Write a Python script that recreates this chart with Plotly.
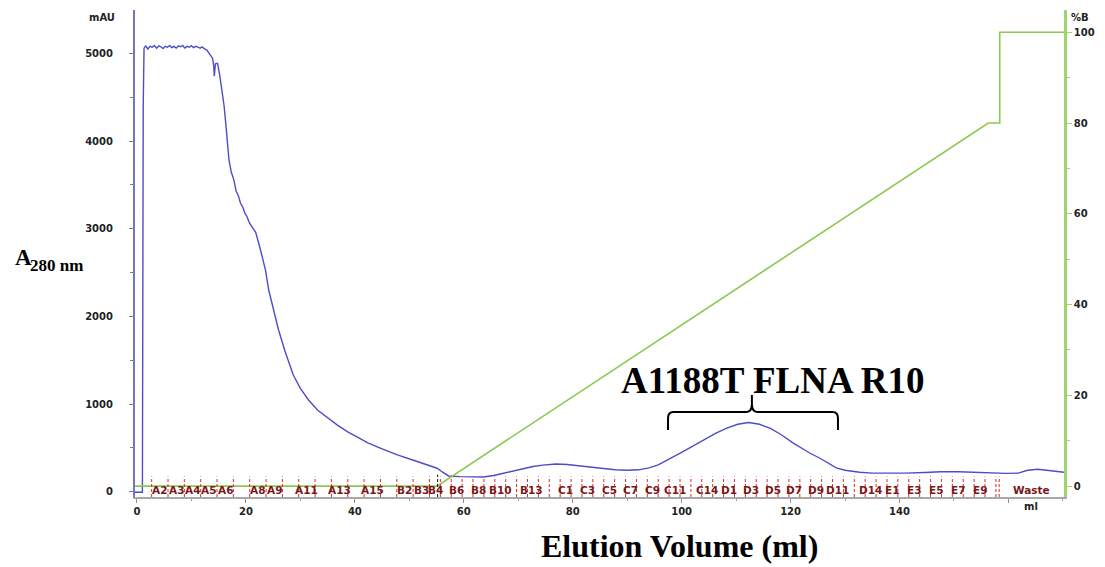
import plotly.graph_objects as go

# ---------------- data ----------------
elution_ml = [-0.4, 1.0, 1.15, 1.3, 1.6, 2.0, 2.4, 2.8, 3.2, 3.6, 4.0, 4.4, 4.8, 5.2, 5.6,
              6.0, 6.4, 6.8, 7.2, 7.6, 8.0, 8.4, 8.8, 9.2, 9.6, 10.0, 10.4, 10.8, 11.2, 11.6,
              12.0, 12.4, 12.8, 13.2, 13.6, 13.9, 14.1, 14.2, 14.4, 14.8, 15.2, 15.7, 16.0,
              16.3, 16.6, 16.9, 17.3, 17.8, 18.2, 18.6, 19.0, 19.4, 19.8, 20.2, 20.7, 21.2,
              21.8, 22.7, 23.6, 24.2, 25.0, 26.0, 27.2, 28.7, 30.0, 31.5, 33.2, 35.1, 36.8,
              38.7, 40.5, 42.4, 45.0, 47.8, 50.5, 53.3, 55.1, 56.2, 57.2, 59.3, 61.5, 63.6,
              65.5, 67.2, 69.0, 70.9, 72.7, 74.5, 76.9, 79.0, 81.8, 84.8, 87.8, 90.0, 92.1,
              94.0, 95.7, 96.8, 98.1, 100.0, 102.0, 104.3, 106.3, 108.3, 110.3, 112.3, 114.3,
              116.3, 118.3, 120.5, 122.0, 123.6, 125.4, 127.0, 128.4, 130.0, 132.7, 135.0,
              138.7, 141.0, 144.7, 147.5, 150.9, 154.0, 156.9, 159.5, 161.8, 163.5, 165.4,
              167.5, 170.2]
absorbance_mau = [-5, -5, 4400, 5060, 5085, 5050, 5080, 5070, 5090, 5060, 5085, 5075, 5055,
                  5080, 5070, 5090, 5065, 5080, 5060, 5085, 5075, 5090, 5060, 5080, 5070,
                  5088, 5065, 5080, 5072, 5060, 5075, 5050, 5040, 5000, 4960, 4943, 4850,
                  4740, 4880, 4886, 4750, 4562, 4400, 4205, 4000, 3783, 3650, 3555, 3430,
                  3380, 3293, 3250, 3180, 3137, 3060, 3010, 2960, 2754, 2529, 2298, 2080,
                  1845, 1600, 1332, 1180, 1047, 930, 842, 760, 683, 620, 557, 490, 420, 365,
                  306, 268, 220, 180, 172, 166, 168, 185, 211, 240, 268, 288, 304, 316, 310,
                  294, 270, 250, 245, 250, 272, 306, 340, 385, 450, 520, 600, 668, 725, 770,
                  790, 770, 722, 650, 555, 495, 439, 382, 320, 272, 245, 222, 212, 210, 212,
                  220, 228, 228, 220, 212, 210, 212, 245, 257, 245, 222]

gradient_ml = [-0.4, 55.1, 156.3, 158.4, 158.4, 170.2]
gradient_pct_b = [0, 0, 80, 80, 100, 100]

fraction_boundaries_ml = [2.7, 5.7, 8.7, 11.7, 14.7, 17.7, 20.7, 23.7, 26.7, 29.7, 32.7, 35.7,
                          38.7, 41.7, 44.7, 47.7, 50.7, 53.7, 55.7, 57.7, 59.7, 61.7, 63.7,
                          65.7, 67.7, 69.7, 71.7, 73.7, 75.7, 77.7, 79.7, 81.7, 83.7, 85.7,
                          87.7, 89.7, 91.7, 93.7, 95.7, 97.7, 99.7, 101.7, 103.7, 105.7, 107.7,
                          109.7, 111.7, 113.7, 115.7, 117.7, 119.7, 121.7, 123.7, 125.7, 127.7,
                          129.7, 131.7, 133.7, 135.7, 137.7, 139.7, 141.7, 143.7, 145.7, 147.7,
                          149.7, 151.7, 153.7, 155.7, 157.7, 158.3]
fraction_labels = ["A2", "A3", "A4", "A5", "A6", "A8", "A9", "A11", "A13", "A15", "B2", "B3",
                   "B4", "B6", "B8", "B10", "B13", "C1", "C3", "C5", "C7", "C9", "C11", "C14",
                   "D1", "D3", "D5", "D7", "D9", "D11", "D14", "E1", "E3", "E5", "E7", "E9",
                   "Waste"]
fraction_label_ml = [4.2, 7.2, 10.2, 13.2, 16.2, 22.2, 25.2, 31.2, 37.2, 43.2, 49.2, 52.2,
                     54.9, 58.7, 62.7, 66.7, 72.4, 78.7, 82.7, 86.7, 90.7, 94.7, 98.7, 104.7,
                     108.7, 112.7, 116.7, 120.7, 124.7, 128.7, 134.7, 138.7, 142.7, 146.7,
                     150.7, 154.7, 164.3]
injection_mark_ml = 55.2

x_tick_vals = [0, 20, 40, 60, 80, 100, 120, 140, 160]
x_tick_text = ["0", "20", "40", "60", "80", "100", "120", "140", ""]
y_tick_vals = [0, 1000, 2000, 3000, 4000, 5000]
y2_tick_vals = [0, 20, 40, 60, 80, 100]

# ---------------- figure ----------------
BLUE = "#4d4dc8"
GREEN = "#8cc853"
TICKFONT = dict(family="DejaVu Sans", size=10, color="#222222", weight="bold")

fig = go.Figure()
fig.add_trace(go.Scatter(x=elution_ml, y=absorbance_mau, mode="lines",
                         line=dict(color=BLUE, width=1.4), yaxis="y", showlegend=False))
fig.add_trace(go.Scatter(x=gradient_ml, y=gradient_pct_b, mode="lines",
                         line=dict(color=GREEN, width=1.6), yaxis="y2", showlegend=False))

shapes = []
for b in fraction_boundaries_ml:
    shapes.append(dict(type="line", xref="x", yref="y domain", x0=b, x1=b, y0=0, y1=0.042,
                       line=dict(color="#dd2a2a", width=1, dash="3px,2px"), layer="above"))
shapes.append(dict(type="line", xref="x", yref="y domain", x0=injection_mark_ml,
                   x1=injection_mark_ml, y0=0, y1=0.046,
                   line=dict(color="#111111", width=1, dash="3px,2px")))

# brace over the peak
bx0, bx1, bxc = 97.5, 128.7, 112.9
by_end, by_bar, by_tip = 705, 910, 1104
brace_path = (f"M {bx0},{by_end} L {bx0},{by_bar-70} Q {bx0},{by_bar} {bx0+1.0},{by_bar} "
              f"L {bxc-1.0},{by_bar} Q {bxc},{by_bar} {bxc},{by_bar+90} L {bxc},{by_tip} "
              f"L {bxc},{by_bar+90} Q {bxc},{by_bar} {bxc+1.0},{by_bar} "
              f"L {bx1-1.0},{by_bar} Q {bx1},{by_bar} {bx1},{by_bar-70} L {bx1},{by_end}")
shapes.append(dict(type="path", xref="x", yref="y", path=brace_path,
                   line=dict(color="#000000", width=2)))

annotations = []
for lab, pos in zip(fraction_labels, fraction_label_ml):
    annotations.append(dict(x=pos, y=0.015, xref="x", yref="y domain", text=lab,
                            showarrow=False, xanchor="center", yanchor="middle",
                            font=dict(family="DejaVu Sans", size=10.5, color="#7a1818",
                                      weight="bold")))
annotations += [
    dict(x=164.2, y=-0.0, xref="x", yref="paper", text="ml", showarrow=False,
         yanchor="top", yshift=-2, font=TICKFONT),
    dict(x=-0.0352, y=0.9856, xref="paper", yref="paper", text="mAU", showarrow=False,
         xanchor="center", yanchor="middle", font=TICKFONT),
    dict(x=1.017, y=0.9856, xref="paper", yref="paper", text="%B", showarrow=False,
         xanchor="center", yanchor="middle", font=TICKFONT),
    dict(x=0.6865, y=0.2402, xref="paper", yref="paper", text="A1188T FLNA R10",
         showarrow=False, xanchor="center", yanchor="middle",
         font=dict(family="Liberation Serif", size=37, color="#000000", weight="bold")),
    dict(x=0.5864, y=-0.1405, xref="paper", yref="paper", text="Elution Volume (ml)",
         showarrow=False, xanchor="center", yanchor="bottom", borderpad=0,
         font=dict(family="Liberation Serif", size=32, color="#000000", weight="bold")),
    dict(x=-0.1316, y=0.4908, xref="paper", yref="paper", text="A",
         showarrow=False, xanchor="left", yanchor="middle",
         font=dict(family="Liberation Serif", size=23, color="#000000", weight="bold")),
    dict(x=-0.1151, y=0.4745, xref="paper", yref="paper", text="280 nm",
         showarrow=False, xanchor="left", yanchor="middle",
         font=dict(family="Liberation Serif", size=17, color="#000000", weight="bold")),
]

fig.update_layout(
    width=1105, height=567,
    margin=dict(l=135, r=32, t=10, b=70),
    paper_bgcolor="white", plot_bgcolor="white",
    shapes=shapes, annotations=annotations,
    xaxis=dict(range=[-0.36, 170.2], showline=True, linecolor="#a8a8a8", linewidth=1.5,
               ticks="outside", ticklen=4, tickcolor="#909090", tickvals=x_tick_vals,
               ticktext=x_tick_text, tickfont=TICKFONT, showgrid=False, zeroline=False,
               minor=dict(dtick=10, tick0=0, ticks="outside", ticklen=2, tickcolor="#a0a0a0")),
    yaxis=dict(range=[-60, 5495], showline=True, linecolor="#7474c4", linewidth=2,
               ticks="outside", ticklen=4, tickcolor="#7474c4", tickvals=y_tick_vals,
               tickfont=TICKFONT, showgrid=False, zeroline=False, ticklabelstandoff=14,
               minor=dict(dtick=500, tick0=0, ticks="outside", ticklen=3, tickcolor="#7474c4")),
    yaxis2=dict(range=[-2.4, 104.9], overlaying="y", side="right", showline=True,
                linecolor="#9fd46e", linewidth=2.5, ticks="outside", ticklen=5,
                tickcolor="#9fd46e", tickvals=y2_tick_vals, tickfont=TICKFONT,
                showgrid=False, zeroline=False,
                minor=dict(dtick=10, tick0=0, ticks="outside", ticklen=3, tickcolor="#9fd46e")),
)

fig.write_html("out.html")
